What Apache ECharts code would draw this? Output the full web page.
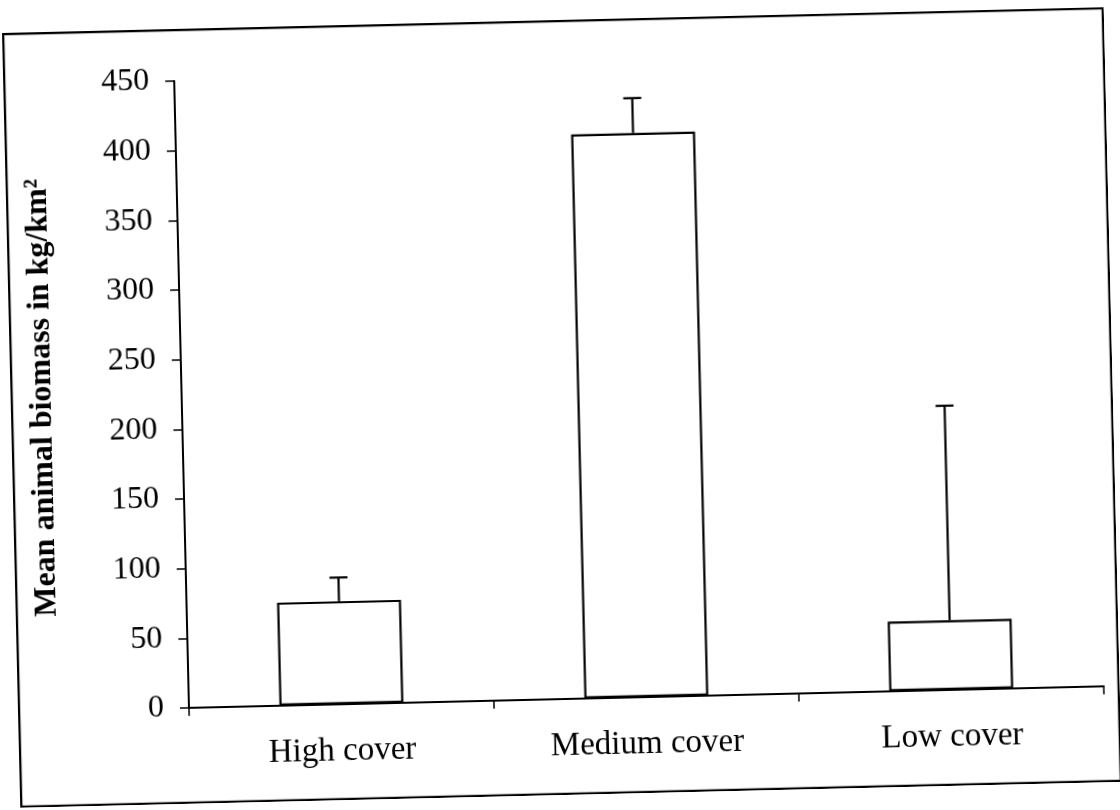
<!DOCTYPE html>
<html>
<head>
<meta charset="utf-8">
<script src="https://cdn.jsdelivr.net/npm/echarts@6/dist/echarts.min.js"></script>
<style>
  html, body { margin: 0; padding: 0; background: #fff; width: 1120px; height: 810px; overflow: hidden; }
  #chart { position: absolute; left: 11px; top: 20px; width: 1102px; height: 775px; transform: rotate(-1.35deg); }
</style>
</head>
<body>
<div id="chart"></div>
<script>
// ---- data ----
const categories = ['High cover', 'Medium cover', 'Low cover'];
const meanBiomass = [74, 405, 50];      // bar heights (kg/km²)
const errorUpper = [17, 25, 154];       // upper error bar length
const yMin = 0;
const yMax = 450;
const yInterval = 50;
const yAxisTitle = 'Mean animal biomass in kg/km²';

const FONT = 'Liberation Serif';

const chart = echarts.init(document.getElementById('chart'), null, { renderer: 'canvas' });

const errorData = categories.map((c, i) => [i, meanBiomass[i], errorUpper[i]]);

const option = {
  backgroundColor: '#ffffff',
  animation: false,
  graphic: [{
    type: 'rect',
    shape: { x: 1, y: 1, width: 1100, height: 773 },
    style: { fill: 'none', stroke: '#000', lineWidth: 2.5 },
    silent: true
  }],
  grid: { left: 171, right: 16, top: 52, bottom: 96 },
  xAxis: {
    type: 'category',
    data: categories,
    boundaryGap: true,
    axisLine: { lineStyle: { color: '#000', width: 2 } },
    axisTick: { show: true, inside: false, length: 8, lineStyle: { color: '#000', width: 1.5 } },
    axisLabel: { color: '#000', fontFamily: FONT, fontSize: 33, margin: 31 },
    splitLine: { show: false }
  },
  yAxis: {
    type: 'value',
    min: yMin,
    max: yMax,
    interval: yInterval,
    name: yAxisTitle,
    nameLocation: 'middle',
    nameRotate: 90,
    nameGap: 123,
    nameTextStyle: { color: '#000', fontFamily: FONT, fontSize: 32, fontWeight: 'bold' },
    axisLine: { show: true, lineStyle: { color: '#000', width: 2 } },
    axisTick: { show: true, inside: false, length: 9, lineStyle: { color: '#000', width: 1.5 } },
    axisLabel: { color: '#000', fontFamily: FONT, fontSize: 32, margin: 25 },
    splitLine: { show: false }
  },
  series: [
    {
      type: 'bar',
      data: meanBiomass,
      barWidth: 124,
      itemStyle: { color: '#ffffff', borderColor: '#000', borderWidth: 2.2 },
      z: 2
    },
    {
      type: 'custom',
      data: errorData,
      z: 3,
      renderItem: function (params, api) {
        const idx = api.value(0);
        const mean = api.value(1);
        const err = api.value(2);
        const base = api.coord([idx, mean]);
        const top = api.coord([idx, mean + err]);
        const half = 9;
        const style = { stroke: '#000', lineWidth: 2.2 };
        return {
          type: 'group',
          children: [
            { type: 'line', shape: { x1: base[0], y1: base[1], x2: top[0], y2: top[1] }, style: style },
            { type: 'line', shape: { x1: top[0] - half, y1: top[1], x2: top[0] + half, y2: top[1] }, style: style }
          ]
        };
      }
    }
  ]
};

chart.setOption(option);
</script>
</body>
</html>
